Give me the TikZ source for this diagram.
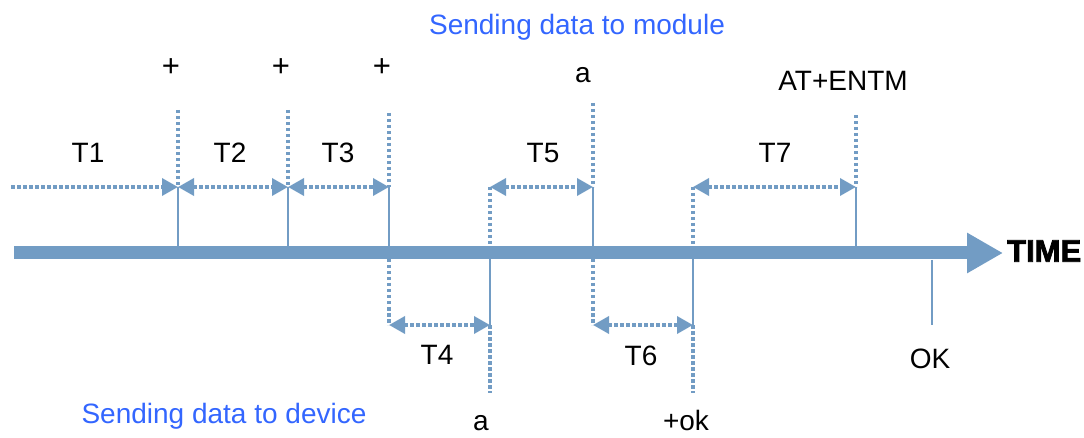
\documentclass[tikz,border=0pt]{standalone}
\usepackage{fontspec}
\setmainfont{Liberation Sans}
\newfontfamily\heavyfont{Liberation Sans}[BoldFeatures={FakeBold=2.5}]
\usepackage{tikz}
\usetikzlibrary{arrows.meta}
\definecolor{axisBlue}{HTML}{729CC4}
\definecolor{labelBlue}{HTML}{3366FF}

\begin{document}
\begin{tikzpicture}[x=1pt,y=-1pt,
  >={Triangle[length=16pt,width=17pt]},
  dotLine/.style={axisBlue,line width=3.5pt,dash pattern=on 3.5pt off 2.5pt},
  tickLine/.style={axisBlue,line width=2.5pt},
  lbl/.style={anchor=base,inner sep=0pt,font=\fontsize{28}{32}\selectfont},
  sideLbl/.style={lbl,labelBlue}]
\useasboundingbox (0,0) rectangle (1084,438);
% time axis
\coordinate (axS) at (14,253);
\coordinate (axE) at (1003,253);
\draw[axisBlue,line width=13pt,-{Triangle[length=36pt,width=38pt]}] (axS)--(axE);
\node[anchor=west,inner sep=0pt,font=\fontsize{31}{36}\heavyfont\bfseries] (time) at (1007,251) {TIME};
% upper ticks (module side)
\foreach \nm/\xx/\yt in {uA/178/110,uB/288/110,uC/389/113,uE/593/103,uG/856/115}{
  \coordinate (\nm top) at (\xx,\yt);
  \coordinate (\nm) at (\xx,187);
  \coordinate (\nm ax) at (\xx,247);
  \draw[dotLine] (\nm top)--(\nm);
  \draw[tickLine] (\nm)--(\nm ax);
}
% lower ticks (device side)
\foreach \nm/\xx in {dD/490,dF/693}{
  \coordinate (\nm up) at (\xx,187);
  \coordinate (\nm ax) at (\xx,247);
  \coordinate (\nm lo) at (\xx,259);
  \coordinate (\nm) at (\xx,325);
  \coordinate (\nm end) at (\xx,393);
  \draw[dotLine] (\nm up)--(\nm ax);
  \draw[tickLine] (\nm lo)--(\nm);
  \draw[dotLine] (\nm)--(\nm end);
}
\foreach \nm/\xx in {dC/389,dE/593}{
  \coordinate (\nm lo) at (\xx,259);
  \coordinate (\nm) at (\xx,325);
  \draw[dotLine] (\nm lo)--(\nm);
}
\coordinate (okTop) at (932,260);
\coordinate (okEnd) at (932,325);
\draw[tickLine] (okTop)--(okEnd);
% spans
\coordinate (start) at (11,187);
\draw[dotLine,->] (start)--(uA);
\draw[dotLine,<->] (uA)--(uB);
\draw[dotLine,<->] (uB)--(uC);
\draw[dotLine,<->] (dDup)--(uE);
\draw[dotLine,<->] (dFup)--(uG);
\draw[dotLine,<->] (dC)--(dD);
\draw[dotLine,<->] (dE)--(dF);
% span labels
\node[lbl] (t1) at (88,163) {T1};
\node[lbl] (t2) at (230,163) {T2};
\node[lbl] (t3) at (338,163) {T3};
\node[lbl] (t5) at (543,163) {T5};
\node[lbl] (t7) at (775,163) {T7};
\node[lbl] (t4) at (437,364) {T4};
\node[lbl] (t6) at (641,365) {T6};
% data labels
\node[lbl,font=\fontsize{31}{32}\selectfont] (plusA) at (171,77) {+};
\node[lbl,font=\fontsize{31}{32}\selectfont] (plusB) at (281,77) {+};
\node[lbl,font=\fontsize{31}{32}\selectfont] (plusC) at (382,77) {+};
\node[lbl] (aUp) at (583,83) {a};
\node[lbl] (entm) at (843,91) {AT+ENTM};
\node[lbl] (aLo) at (481,430) {a};
\node[lbl] (plusOk) at (686,430) {+ok};
\node[lbl] (ok) at (930,368) {OK};
\node[sideLbl] (toModule) at (577,35) {Sending data to module};
\node[sideLbl] (toDevice) at (224,423) {Sending data to device};
\end{tikzpicture}
\end{document}
